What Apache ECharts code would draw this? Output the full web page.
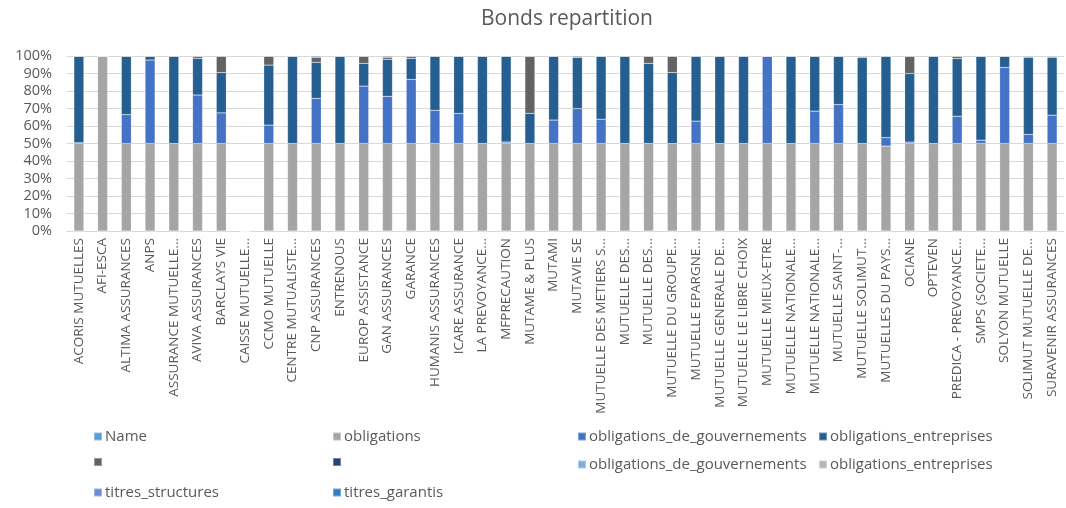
<!DOCTYPE html>
<html><head><meta charset="utf-8">
<script src="https://cdn.jsdelivr.net/npm/echarts@6/dist/echarts.min.js"></script>
<style>html,body{margin:0;padding:0;background:#fff}#c{width:1066px;height:508px}</style>
</head><body><div id="c"></div>
<script>
const categories = ["ACORIS MUTUELLES","AFI-ESCA","ALTIMA ASSURANCES","ANPS","ASSURANCE MUTUELLE...","AVIVA ASSURANCES","BARCLAYS VIE","CAISSE MUTUELLE...","CCMO MUTUELLE","CENTRE MUTUALISTE...","CNP ASSURANCES","ENTRENOUS","EUROP ASSISTANCE","GAN ASSURANCES","GARANCE","HUMANIS ASSURANCES","ICARE ASSURANCE","LA PREVOYANCE...","MFPRECAUTION","MUTAME & PLUS","MUTAMI","MUTAVIE SE","MUTUELLE DES METIERS S...","MUTUELLE DES...","MUTUELLE DES...","MUTUELLE DU GROUPE...","MUTUELLE EPARGNE...","MUTUELLE GENERALE DE...","MUTUELLE LE LIBRE CHOIX","MUTUELLE MIEUX-ETRE","MUTUELLE NATIONALE...","MUTUELLE NATIONALE...","MUTUELLE SAINT-...","MUTUELLE SOLIMUT...","MUTUELLES DU PAYS...","OCIANE","OPTEVEN","PREDICA - PREVOYANCE...","SMPS (SOCIETE...","SOLYON MUTUELLE","SOLIMUT MUTUELLE DE...","SURAVENIR ASSURANCES"];
const obligations = [50,100,50,50,50,50,50,0,50,50,50,50,50,50,50,50,50,50,50,50,50,50,50,50,50,50,50,50,50,50,50,50,50,50,48.5,50,50,50,50,50,50,50];
const obligationsGouv = [0.5,0,16.5,47.7,0,27.7,17.5,0,10.5,0,25.8,0,32.8,27,36.6,19,17.2,0,0.8,0,13.4,20,13.9,0,0,0,12.8,0,0,50,0,18.5,22.3,0,4.9,0.8,0,15.6,1.9,43.5,5.2,16.2];
const obligationsEntr = [49.5,0,33.5,2.3,50,21,23,0,34.3,50,20.6,50,13,21.1,12.1,31,32.8,50,49.2,17.2,36.6,29.2,36.1,50,45.8,40.6,37.2,50,50,0,50,31.5,27.7,49.2,46.6,39.2,50,32.9,48.1,6.5,44,33];
const blank1 = [0,0,0,0,0,1.3,9.5,0,5.2,0,2.8,0,4.2,1.1,1.3,0,0,0,0,32.8,0,0,0,0,4.2,9.4,0,0,0,0,0,0,0,0.8,0,10,0,1.5,0,0,0.8,0.8];
const blank2 = [0,0,0,0,0,0,0,0,0,0,0.8,0,0,0.8,0,0,0,0,0,0,0,0.8,0,0,0,0,0,0,0,0,0,0,0,0,0,0,0,0,0,0,0,0];
const zeros = categories.map(() => 0);
const yTicks = [0,10,20,30,40,50,60,70,80,90,100];

const seriesDefs = [
  {id:'name', label:'Name', color:'#5B9BD5', data:zeros},
  {id:'obl', label:'obligations', color:'#A5A5A5', data:obligations},
  {id:'gouv', label:'obligations_de_gouvernements', color:'#4472C4', data:obligationsGouv},
  {id:'entr', label:'obligations_entreprises', color:'#255E91', data:obligationsEntr},
  {id:'b1', label:'', color:'#636363', data:blank1},
  {id:'b2', label:'', color:'#264478', data:blank2},
  {id:'gouv2', label:'obligations_de_gouvernements', color:'#7CAFDD', data:zeros},
  {id:'entr2', label:'obligations_entreprises', color:'#B7B7B7', data:zeros},
  {id:'ts', label:'titres_structures', color:'#698ED0', data:zeros},
  {id:'tg', label:'titres_garantis', color:'#327DC2', data:zeros}
];
const labelMap = {};
seriesDefs.forEach(s => labelMap[s.id] = s.label);

const legendPos = [[88,424],[327,424],[572,424],[813,424],[88,452],[327,452],[572,452],[813,452],[88,480],[327,480]];
const legends = seriesDefs.map((s,i) => ({
  data:[s.id], left:legendPos[i][0], top:legendPos[i][1], icon:'rect', itemWidth:8, itemHeight:8, itemGap:0,
  formatter: n => labelMap[n],
  textStyle:{fontFamily:'Open Sans', fontSize:15, color:'#595959', padding:[0,0,0,-2]}
}));

const chart = echarts.init(document.getElementById('c'), null, {renderer:'canvas'});
chart.setOption({
  animation:false,
  title:{text:'Bonds repartition', left:476, top:4, textStyle:{fontFamily:'Open Sans', fontSize:21, fontWeight:'normal', color:'#595959'}},
  legend:legends,
  grid:{left:67, right:2, top:56, bottom:277, containLabel:false},
  xAxis:{type:'category', data:categories,
    axisLine:{lineStyle:{color:'#D9D9D9'}}, axisTick:{show:false},
    axisLabel:{interval:0, rotate:90, fontFamily:'Open Sans', fontSize:13.5, color:'#595959', margin:7}},
  yAxis:{type:'value', min:yTicks[0], max:yTicks[yTicks.length-1], interval:10,
    axisLine:{show:false}, axisTick:{show:false},
    axisLabel:{formatter:'{value}%', fontFamily:'Open Sans', fontSize:14.5, color:'#595959', margin:15},
    splitLine:{lineStyle:{color:'#D9D9D9'}}},
  series: seriesDefs.map(s => ({
    id:s.id, name:s.id, type:'bar', stack:'total', data:s.data, barWidth:'42%',
    itemStyle:{color:s.color, borderColor:'rgba(255,255,255,0.35)', borderWidth:0.5}
  }))
});
</script></body></html>
